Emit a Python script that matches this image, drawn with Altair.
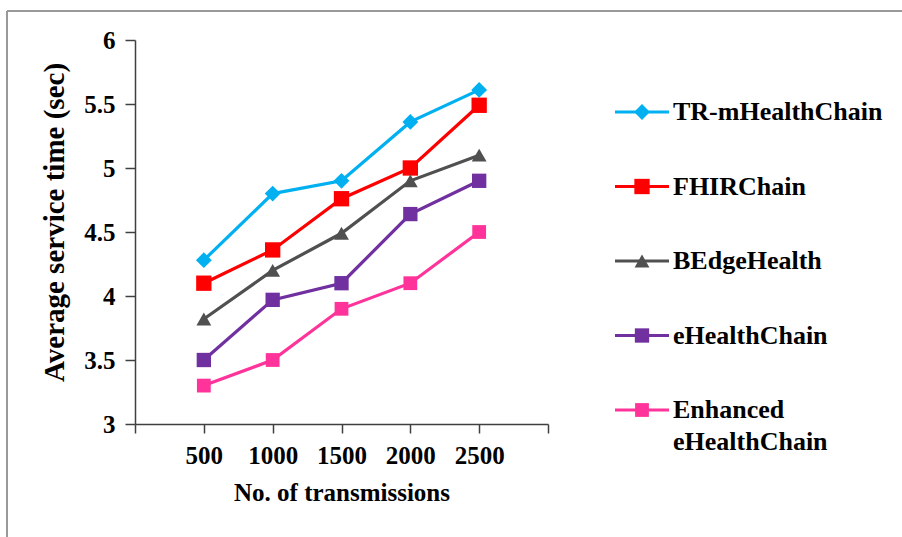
import altair as alt
import pandas as pd

# Number of transmissions (x) and average service time in seconds (y)
transmissions = [500, 1000, 1500, 2000, 2500]
series = ["TR-mHealthChain", "FHIRChain", "BEdgeHealth", "eHealthChain", "Enhanced eHealthChain"]
legend_labels = ["TR-mHealthChain", "FHIRChain", "BEdgeHealth", "eHealthChain", "Enhanced\neHealthChain"]

tr_mhealthchain = [4.28, 4.80, 4.90, 5.36, 5.61]
fhirchain = [4.10, 4.36, 4.76, 5.00, 5.49]
bedgehealth = [3.82, 4.20, 4.49, 4.90, 5.10]
ehealthchain = [3.50, 3.97, 4.10, 4.64, 4.90]
enhanced_ehealthchain = [3.30, 3.50, 3.90, 4.10, 4.50]

colors = ["#00B0F0", "#FF0000", "#505050", "#7030A0", "#FF3399"]
shapes = ["diamond", "square", "triangle-up", "square", "square"]
sizes = [250, 190, 470, 190, 190]

values = [tr_mhealthchain, fhirchain, bedgehealth, ehealthchain, enhanced_ehealthchain]
rows = []
for name, vals in zip(series, values):
    for t, v in zip(transmissions, vals):
        rows.append({"series": name, "transmissions": t, "time": v})
df = pd.DataFrame(rows)

legend_df = pd.DataFrame({"series": series, "label": legend_labels, "row": list(range(len(series)))})

FONT = "Liberation Serif"

color = alt.Color("series:N", scale=alt.Scale(domain=series, range=colors), legend=None)
shape = alt.Shape("series:N", scale=alt.Scale(domain=series, range=shapes), legend=None)
size = alt.Size("series:N", scale=alt.Scale(domain=series, range=sizes), legend=None)

x = alt.X(
    "transmissions:Q",
    scale=alt.Scale(domain=[0, 3000], nice=False, zero=False),
    axis=alt.Axis(
        values=[0, 500, 1000, 1500, 2000, 2500, 3000],
        format="d",
        labelExpr="datum.value == 0 || datum.value == 3000 ? '' : datum.label",
        title="No. of transmissions",
        grid=False,
        tickSize=9,
        labelPadding=10,
        labelFontSize=25,
        titleFontSize=25,
        titleY=76,
        titleBaseline="alphabetic",
    ),
)
y = alt.Y(
    "time:Q",
    scale=alt.Scale(domain=[3, 6], nice=False, zero=False),
    axis=alt.Axis(
        values=[3, 3.5, 4, 4.5, 5, 5.5, 6],
        format=".1~f",
        title="Average service time (sec)",
        grid=False,
        tickSize=10,
        labelPadding=10,
        labelFontSize=25,
        titleFontSize=29,
        titleX=-72,
        titleY=182,
        titleAlign="center",
        titleBaseline="alphabetic",
        titleAngle=270,
    ),
)

base = alt.Chart(df)
lines = base.mark_line(strokeWidth=3.2).encode(x=x, y=y, color=color, detail="series:N")
points = base.mark_point(filled=True, opacity=1).encode(x=x, y=y, color=color, shape=shape, size=size)
plot = alt.layer(lines, points)

# Legend drawn beside the plot: line sample, marker and label per series
ly = alt.Y("row:Q", scale=alt.Scale(domain=[0, 4], range=[72, 370]), axis=None)
leg = alt.Chart(legend_df)
leg_rule = leg.mark_rule(strokeWidth=3.2).encode(
    x=alt.value(480), x2=alt.value(534), y=ly, color=color
)
leg_pt = leg.mark_point(filled=True, opacity=1).encode(
    x=alt.value(507), y=ly, color=color, shape=shape, size=size
)
leg_text = leg.mark_text(
    align="left", baseline="middle", font=FONT, fontSize=26, fontWeight="bold",
    lineBreak="\n", lineHeight=32, color="black",
).encode(x=alt.value(538), y=ly, text="label:N")
legend = alt.layer(leg_rule, leg_pt, leg_text)

# Outer frame lines (top and left edges)
frame_df = pd.DataFrame({"k": [0]})
frame_top = alt.Chart(frame_df).mark_rule(color="#999999", strokeWidth=2).encode(
    x=alt.value(-128), x2=alt.value(770), y=alt.value(-29)
)
frame_left = alt.Chart(frame_df).mark_rule(color="#999999", strokeWidth=2).encode(
    x=alt.value(-128), y=alt.value(-29), y2=alt.value(500)
)

chart = (
    alt.layer(frame_top, frame_left, plot, legend)
    .resolve_scale(y="independent")
    .properties(
        width=413,
        height=384,
        autosize=alt.AutoSizeParams(type="none"),
        padding={"left": 135, "top": 40, "right": 354, "bottom": 113},
        background="white",
    )
    .configure_view(stroke=None)
    .configure_axis(
        labelFont=FONT,
        titleFont=FONT,
        labelFontWeight="bold",
        titleFontWeight="bold",
        labelColor="black",
        titleColor="black",
        domainColor="#404040",
        tickColor="#404040",
        domainWidth=1.5,
        tickWidth=1.5,
    )
)

chart.save("out.html", embed_options={"renderer": "svg", "actions": False})
